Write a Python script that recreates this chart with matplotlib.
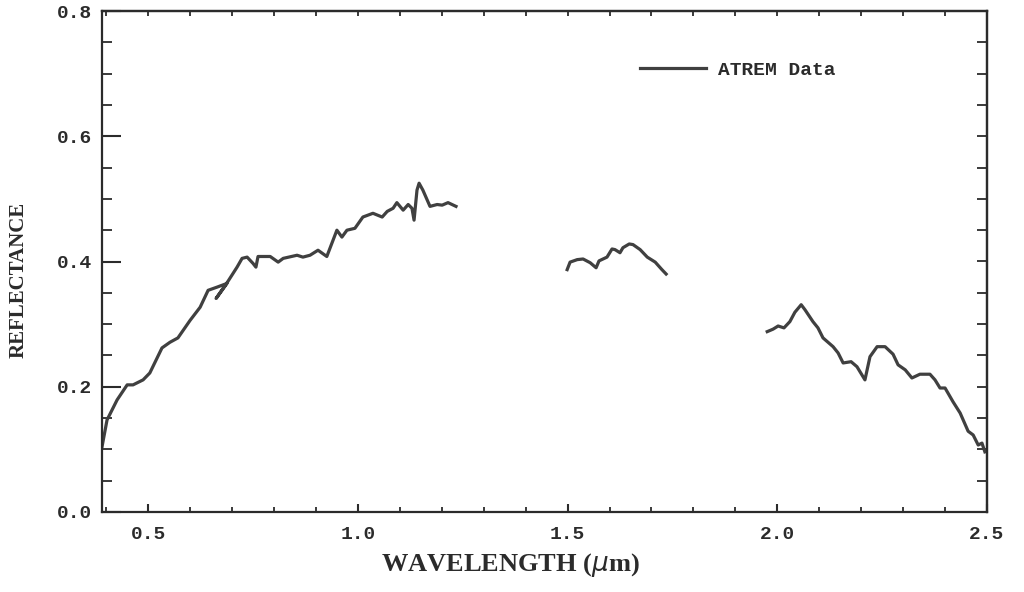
import numpy as np
import matplotlib.pyplot as plt
from matplotlib.ticker import MultipleLocator

# ATREM reflectance spectrum (three windows)
wl_1 = [0.390, 0.402, 0.426, 0.450, 0.464, 0.488, 0.504, 0.533, 0.552, 0.571,
        0.600, 0.624, 0.643, 0.664, 0.688, 0.662, 0.690, 0.712, 0.724, 0.736,
        0.750, 0.757, 0.762, 0.791, 0.810, 0.822, 0.855, 0.869, 0.886, 0.905,
        0.926, 0.950, 0.962, 0.974, 0.993, 1.012, 1.036, 1.058, 1.070, 1.084,
        1.093, 1.108, 1.120, 1.129, 1.134, 1.141, 1.146, 1.155, 1.172, 1.189,
        1.201, 1.215, 1.234]
refl_1 = [0.104, 0.147, 0.179, 0.203, 0.203, 0.211, 0.222, 0.262, 0.271, 0.278,
          0.306, 0.327, 0.354, 0.359, 0.365, 0.341, 0.368, 0.391, 0.405, 0.407,
          0.397, 0.391, 0.408, 0.408, 0.399, 0.405, 0.410, 0.407, 0.410, 0.418,
          0.408, 0.450, 0.439, 0.450, 0.453, 0.471, 0.477, 0.471, 0.480, 0.485,
          0.494, 0.482, 0.491, 0.485, 0.466, 0.514, 0.525, 0.514, 0.488, 0.491,
          0.490, 0.494, 0.488]

wl_2 = [1.499, 1.506, 1.523, 1.537, 1.554, 1.568, 1.575, 1.594, 1.606, 1.613,
        1.625, 1.632, 1.647, 1.656, 1.673, 1.690, 1.709, 1.725, 1.735]
refl_2 = [0.387, 0.399, 0.403, 0.404, 0.398, 0.390, 0.401, 0.407, 0.420, 0.419,
          0.414, 0.422, 0.428, 0.427, 0.419, 0.407, 0.399, 0.387, 0.380]

wl_3 = [1.976, 1.990, 2.002, 2.016, 2.030, 2.042, 2.057, 2.066, 2.085, 2.097,
        2.109, 2.133, 2.145, 2.157, 2.176, 2.190, 2.209, 2.221, 2.238, 2.257,
        2.276, 2.288, 2.305, 2.321, 2.340, 2.364, 2.376, 2.388, 2.400, 2.419,
        2.436, 2.455, 2.467, 2.479, 2.488, 2.495]
refl_3 = [0.288, 0.292, 0.297, 0.294, 0.304, 0.319, 0.331, 0.323, 0.304, 0.294,
          0.278, 0.264, 0.254, 0.238, 0.240, 0.232, 0.211, 0.248, 0.264, 0.264,
          0.252, 0.235, 0.227, 0.214, 0.220, 0.220, 0.211, 0.198, 0.198, 0.176,
          0.158, 0.129, 0.123, 0.107, 0.110, 0.096]

x_ticks = [0.5, 1.0, 1.5, 2.0, 2.5]
y_ticks = [0.0, 0.2, 0.4, 0.6, 0.8]

mono = 'Liberation Mono'
serif = 'Liberation Serif'
ink = '#2b2b2b'
line_c = '#404040'

fig = plt.figure(figsize=(10.24, 5.92), dpi=100, facecolor='w')
ax = fig.add_axes([102 / 1024, 80 / 592, 885 / 1024, 501 / 592])

ax.plot(wl_1, refl_1, color=line_c, lw=2.3, label='ATREM Data')
ax.plot(wl_2, refl_2, color=line_c, lw=2.3)
ax.plot(wl_3, refl_3, color=line_c, lw=2.3)

ax.set_xlim(0.39, 2.5)
ax.set_ylim(0.0, 0.8)
ax.set_xticks(x_ticks)
ax.set_yticks(y_ticks)
ax.set_xticklabels(['%.1f' % v for v in x_ticks], family=mono, weight='bold',
                   size=14, color=ink)
ax.set_yticklabels(['%.1f' % v for v in y_ticks], family=mono, weight='bold',
                   size=14, color=ink)
ax.xaxis.set_minor_locator(MultipleLocator(0.1))
ax.yaxis.set_minor_locator(MultipleLocator(0.05))
ax.tick_params(axis='x', which='major', direction='in', length=6, width=1.5,
               color=ink, pad=10)
ax.tick_params(axis='x', which='minor', direction='in', length=3.5, width=1.3,
               color=ink)
ax.tick_params(axis='y', which='major', direction='in', length=14, width=1.5,
               color=ink, pad=7)
ax.tick_params(axis='y', which='minor', direction='in', length=7, width=1.3,
               color=ink)

# top and right frame ticks, shorter than the labelled ones
top = ax.secondary_xaxis('top')
top.set_xticks(x_ticks)
top.xaxis.set_minor_locator(MultipleLocator(0.1))
top.tick_params(which='both', direction='in', length=3.5, width=1.3,
                color=ink, labeltop=False)
right = ax.secondary_yaxis('right')
right.set_yticks(y_ticks)
right.yaxis.set_minor_locator(MultipleLocator(0.05))
right.tick_params(which='both', direction='in', length=7, width=1.3,
                  color=ink, labelright=False)

for a in (ax, top, right):
    for spine in a.spines.values():
        spine.set_linewidth(1.6)
        spine.set_color(ink)

ax.set_xlabel(r'WAVELENGTH ($\mu$m)', family=serif, weight='bold', size=19,
              color=ink)
ax.xaxis.set_label_coords(0.461, -0.078)
ax.set_ylabel('REFLECTANCE', family=serif, weight='bold', size=15,
              color=ink)
ax.yaxis.set_label_coords(-0.083, 0.463)

legend = ax.legend(loc='center left', bbox_to_anchor=(0.608, 0.882),
                   frameon=False, handlelength=3.4, handletextpad=0.6,
                   borderaxespad=0, borderpad=0,
                   prop={'family': mono, 'weight': 'bold', 'size': 14})
for t in legend.get_texts():
    t.set_color(ink)

fig.savefig('out.png', dpi=100, facecolor='w')
